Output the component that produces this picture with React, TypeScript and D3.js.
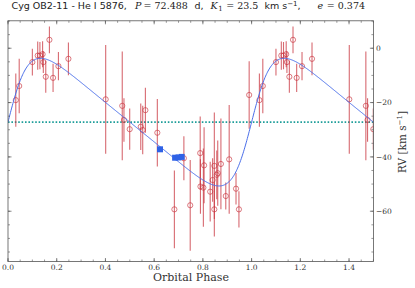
import React from 'react';
import * as d3 from 'd3';

// Red data (phase, RV, error)
const phases = [0.032, 0.046, 0.100, 0.122, 0.131, 0.142, 0.145, 0.155, 0.170, 0.185, 0.207, 0.248, 0.401, 0.469, 0.476, 0.4996,
  0.545, 0.553, 0.564, 0.613, 0.683, 0.722, 0.748, 0.789, 0.790, 0.802, 0.805, 0.830, 0.840, 0.847, 0.847, 0.857, 0.861, 0.874, 0.894, 0.908, 0.936, 0.948, 0.990];
const rvs = [-19.1, -13.9, -5.1, -2.7, -2.7, -2.2, -5.1, -10.5, 3.1, -10.9, -6.6, -3.9, -18.8, -21.2, -26.4, -29.8,
  -28.9, -30.1, -22.8, -31.1, -59.3, -40.5, -57.8, -38.6, -50.9, -51.3, -43.1, -52.8, -48.5, -43.3, -59.3, -46.6, -46.0, -42.6, -54.4, -40.9, -51.7, -59.3, -17.2];
const errs = [9.8, 10.0, 4.9, 5.2, 5.0, 4.8, 4.0, 5.9, 4.9, 5.2, 5.2, 6.0, 20.0, 20.0, 8.0, 7.6,
  8.6, 8.9, 8.3, 12.4, 14.3, 8.1, 16.7, 13.5, 10.0, 14.4, 14.0, 11.0, 8.0, 19.6, 10.0, 9.0, 12.0, 16.7, 5.0, 20.0, 5.8, 6.7, 12.4];

// Blue squares
const sqPhases = [0.624, 0.686, 0.700, 0.713];
const sqRvs = [-37.2, -40.3, -40.2, -40.0];

// Orbit parameters
const K1 = 23.5;
const ECC = 0.374;
const OMEGA = 270; // deg
const GAMMA = -27.2;
const T0 = 0.0;

const xTicksMajor = [0, 0.2, 0.4, 0.6, 0.8, 1.0, 1.2, 1.4];
const xTickLabels = ['0.0', '0.2', '0.4', '0.6', '0.8', '1.0', '1.2', '1.4'];
const yTicksMajor = [0, -20, -40, -60];
const yTickLabels = ['0', '\u221220', '\u221240', '\u221260'];

function keplerRV(ph: number): number {
  const M = 2 * Math.PI * (ph - T0);
  let E = M;
  for (let i = 0; i < 50; i++) E = E - (E - ECC * Math.sin(E) - M) / (1 - ECC * Math.cos(E));
  const nu = 2 * Math.atan2(Math.sqrt(1 + ECC) * Math.sin(E / 2), Math.sqrt(1 - ECC) * Math.cos(E / 2));
  const w = (OMEGA * Math.PI) / 180;
  return GAMMA + K1 * (Math.cos(nu + w) + ECC * Math.cos(w));
}

export default function App() {
  const W = 415, H = 288;
  const L = 8, R = 373.4, T = 20.8, B = 261.5;
  const x = d3.scaleLinear().domain([0, 1.5]).range([L, R]);
  const y = d3.scaleLinear().domain([-78.5, 10.1]).range([B, T]);

  const pts: { p: number; v: number; e: number }[] = [];
  phases.forEach((p, i) => {
    pts.push({ p, v: rvs[i], e: errs[i] });
    if (p < 0.5) pts.push({ p: p + 1, v: rvs[i], e: errs[i] });
  });

  const curvePh = d3.range(0, 1.5001, 0.0025);
  const line = d3.line<number>().x((d) => x(d)).y((d) => y(keplerRV(d)));

  const xMinor = d3.range(0, 1.5001, 0.05);
  const yMinor = d3.range(-75, 10.01, 5);

  const red = '#c8303a';
  const serif = '"DejaVu Serif", serif';
  const sans = '"DejaVu Sans", sans-serif';
  const axisCol = '#555';

  return (
    <svg width={W} height={H} style={{ position: 'absolute', left: 0, top: 0, background: '#fff' }}>
      <defs>
        <clipPath id="pc">
          <rect x={L} y={T} width={R - L} height={B - T} />
        </clipPath>
      </defs>
      <g clipPath="url(#pc)">
        <line x1={L} x2={R} y1={y(GAMMA)} y2={y(GAMMA)} stroke="#1f9e9a" strokeWidth={1.6} strokeDasharray="1.6,1.8" />
        {pts.map((d, i) => (
          <g key={i}>
            <line x1={x(d.p)} x2={x(d.p)} y1={y(d.v - d.e)} y2={y(d.v + d.e)} stroke={red} strokeOpacity={0.72} strokeWidth={1.1} />
            <circle cx={x(d.p)} cy={y(d.v)} r={2.6} fill="none" stroke={red} strokeOpacity={0.8} strokeWidth={0.8} />
          </g>
        ))}
        <path d={line(curvePh) || ''} fill="none" stroke="#4a6ee8" strokeWidth={1} />
        {sqPhases.map((p, i) => (
          <rect key={i} x={x(p) - 3} y={y(sqRvs[i]) - 3} width={6} height={6} fill="#2f62e6" />
        ))}
      </g>
      {/* frame */}
      <rect x={L} y={T} width={R - L} height={B - T} fill="none" stroke={axisCol} strokeWidth={0.8} />
      {/* x ticks */}
      {xMinor.map((t, i) => (
        <g key={'xm' + i}>
          <line x1={x(t)} x2={x(t)} y1={B} y2={B - 2} stroke={axisCol} strokeWidth={0.6} />
          <line x1={x(t)} x2={x(t)} y1={T} y2={T + 2} stroke={axisCol} strokeWidth={0.6} />
        </g>
      ))}
      {xTicksMajor.map((t, i) => (
        <g key={'xM' + i}>
          <line x1={x(t)} x2={x(t)} y1={B} y2={B - 3.5} stroke={axisCol} strokeWidth={0.7} />
          <line x1={x(t)} x2={x(t)} y1={T} y2={T + 3.5} stroke={axisCol} strokeWidth={0.7} />
          <text x={x(t)} y={B + 8.5} fontSize={7.5} fontFamily={serif} textAnchor="middle" fill="#333">{xTickLabels[i]}</text>
        </g>
      ))}
      {/* y ticks */}
      {yMinor.map((t, i) => (
        <g key={'ym' + i}>
          <line x1={L} x2={L + 2} y1={y(t)} y2={y(t)} stroke={axisCol} strokeWidth={0.6} />
          <line x1={R} x2={R - 2} y1={y(t)} y2={y(t)} stroke={axisCol} strokeWidth={0.6} />
        </g>
      ))}
      {yTicksMajor.map((t, i) => (
        <g key={'yM' + i}>
          <line x1={L} x2={L + 3.5} y1={y(t)} y2={y(t)} stroke={axisCol} strokeWidth={0.7} />
          <line x1={R} x2={R - 3.5} y1={y(t)} y2={y(t)} stroke={axisCol} strokeWidth={0.7} />
          <text x={R + 2.5} y={y(t) + 2.7} fontSize={7.5} fontFamily={serif} textAnchor="start" fill="#333">{yTickLabels[i]}</text>
        </g>
      ))}
      <text x={191} y={281} fontSize={11} fontFamily={serif} textAnchor="middle" fill="#333">Orbital Phase</text>
      <text transform={`translate(406,142) rotate(-90)`} fontSize={10.5} fontFamily={serif} textAnchor="middle" fill="#333">
        RV [km s<tspan dy={-4} fontSize={7}>{'\u22121'}</tspan><tspan dy={4}>]</tspan>
      </text>
      {/* title */}
      <g fill="#222" fontSize={9.5}>
        <text x={11.5} y={9} fontFamily={sans}>Cyg OB2-11 - He I 5876,</text>
        <text x={135} y={9} fontFamily={serif} fontStyle="italic">P</text>
        <text x={143.6} y={9} fontFamily={serif}>= 72.488</text>
        <text x={194.6} y={9} fontFamily={sans}>d,</text>
        <text x={210.6} y={9} fontFamily={serif} fontStyle="italic">K</text>
        <text x={218.3} y={11} fontFamily={serif} fontSize={7}>1</text>
        <text x={226.2} y={9} fontFamily={serif}>= 23.5</text>
        <text x={264.5} y={9} fontFamily={sans}>km s<tspan dy={-3.5} fontSize={7}>{'\u22121'}</tspan><tspan dy={3.5}>,</tspan></text>
        <text x={317.5} y={9} fontFamily={serif} fontStyle="italic">e</text>
        <text x={326.8} y={9} fontFamily={serif}>= 0.374</text>
      </g>
    </svg>
  );
}
